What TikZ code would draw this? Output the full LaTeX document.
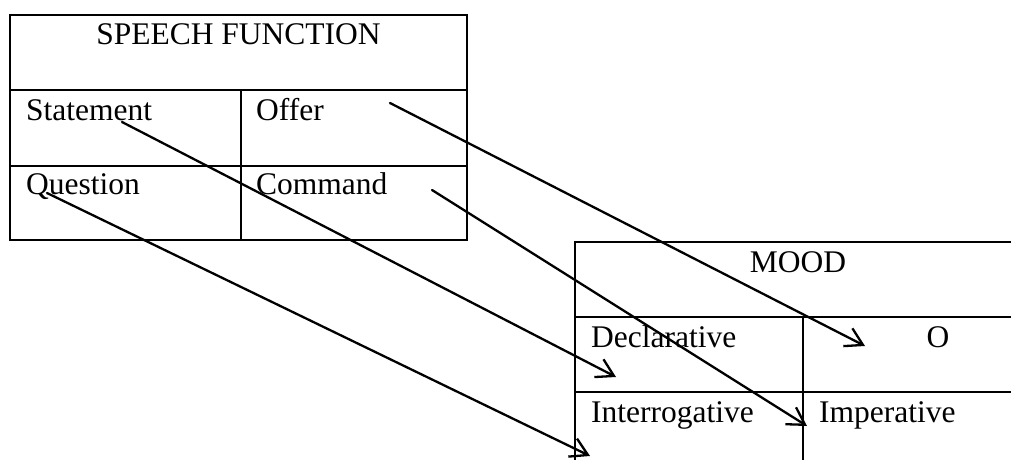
\documentclass[tikz,border=0pt]{standalone}
\usepackage{fontspec}
\setmainfont{Liberation Serif}
\usetikzlibrary{arrows.meta}
\begin{document}
\begin{tikzpicture}[x=1pt,y=-1pt,line width=2.3pt,
  cell/.style={anchor=base west,inner sep=0pt,font=\fontsize{31.5}{36}\selectfont},
  headtext/.style={anchor=base,inner sep=0pt,font=\fontsize{31.5}{36}\selectfont},
  link/.style={-{Straight Barb[length=17pt,width=20pt]},line cap=round,line join=round}]
\useasboundingbox (0,0) rectangle (1011,460);
% SPEECH FUNCTION table
\draw (10,15) rectangle (467,240);
\draw (10,90) -- (467,90);
\draw (10,166) -- (467,166);
\draw (241,90) -- (241,240);
\node[headtext] (sf) at (238.5,45) {SPEECH FUNCTION};
\node[cell] (statement) at (25,120) {Statement};
\node[cell] (offer) at (255,120) {Offer};
\node[cell] (question) at (25,194) {Question};
\node[cell] (command) at (255,194) {Command};
% MOOD table
\draw (1012,242) -- (575,242) -- (575,461);
\draw (575,317) -- (1012,317);
\draw (575,392) -- (1012,392);
\draw (803,317) -- (803,461);
\node[headtext] (mood) at (798,272) {MOOD};
\node[cell] (declarative) at (590,347) {Declarative};
\node[headtext] (o) at (938,347) {O};
\node[cell] (interrogative) at (590,422) {Interrogative};
\node[cell] (imperative) at (818,422) {Imperative};
% connector ends
\coordinate (sStatement) at (122,122);
\coordinate (eStatement) at (616,377);
\coordinate (sOffer) at (390,103);
\coordinate (eOffer) at (865,346);
\coordinate (sQuestion) at (47,193);
\coordinate (eQuestion) at (590,456);
\coordinate (sCommand) at (432,190);
\coordinate (eCommand) at (807,426);
\draw[link] (sStatement) -- (eStatement);
\draw[link] (sOffer) -- (eOffer);
\draw[link] (sQuestion) -- (eQuestion);
\draw[link] (sCommand) -- (eCommand);
\end{tikzpicture}
\end{document}
